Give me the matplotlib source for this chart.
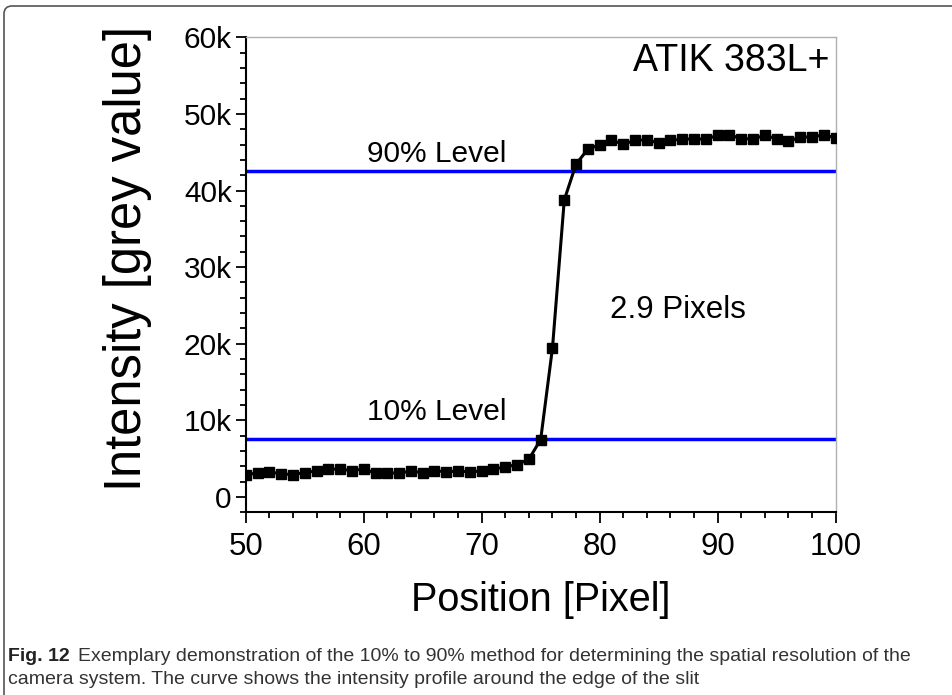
import matplotlib
matplotlib.use("Agg")
import matplotlib.pyplot as plt
from matplotlib.patches import FancyBboxPatch
from matplotlib.ticker import MultipleLocator, FuncFormatter

# intensity profile across the slit edge, one sample per pixel
position = list(range(50, 101))
intensity = [
    2880, 3140, 3270, 3010, 2920, 3185, 3400, 3620, 3620, 3450,
    3660, 3100, 3100, 3140, 3360, 3185, 3450, 3270, 3400, 3270,
    3400, 3620, 3925, 4230, 4930, 7500, 19480, 38780, 43450, 45410,
    45970, 46540, 46060, 46540, 46630, 46190, 46540, 46720, 46720, 46720,
    47190, 47280, 46760, 46760, 47190, 46760, 46410, 46980, 46980, 47280,
    46850,
]
level_10 = 7630
level_90 = 42540
camera = "ATIK 383L+"
rise_label = "2.9 Pixels"

plt.rcParams['font.family'] = ['Liberation Sans', 'DejaVu Sans']

fig = plt.figure(figsize=(9.52, 6.95), dpi=100)
ax = fig.add_axes([0.2581, 0.2629, 0.6197, 0.6834])

ax.axhline(level_10, color='#0000ff', lw=2.5, zorder=2)
ax.axhline(level_90, color='#0000ff', lw=2.5, zorder=2)
ax.plot(position, intensity, color='black', lw=2.2, marker='s',
        markersize=7.5, zorder=3)

ax.set_xlim(50, 100)
ax.set_ylim(-2000, 60000)
ax.xaxis.set_major_locator(MultipleLocator(10))
ax.xaxis.set_minor_locator(MultipleLocator(2))
ax.yaxis.set_major_locator(MultipleLocator(10000))
ax.yaxis.set_minor_locator(MultipleLocator(2000))
ax.yaxis.set_major_formatter(FuncFormatter(
    lambda v, p: '0' if v == 0 else f'{int(v / 1000)}k'))

ax.tick_params(axis='both', which='both', direction='out', width=1.3)
ax.tick_params(axis='x', which='major', length=8, labelsize=22.5, pad=6)
ax.tick_params(axis='x', which='minor', length=4.5)
ax.tick_params(axis='y', which='major', length=7, labelsize=21.5, pad=3)
ax.tick_params(axis='y', which='minor', length=4.5)
for s in ('left', 'bottom'):
    ax.spines[s].set_linewidth(1.5)
for s in ('top', 'right'):
    ax.spines[s].set_color('#b0b0b0')
    ax.spines[s].set_linewidth(1.0)

ax.text(99.5, 55600, camera, ha='right', va='baseline', fontsize=27)
ax.text(60.25, 43750, '90% Level', ha='left', va='baseline', fontsize=21.5)
ax.text(60.25, 10030, '10% Level', ha='left', va='baseline', fontsize=21.5)
ax.text(80.9, 23300, rise_label, ha='left', va='baseline', fontsize=22.5)

fig.text(540.7 / 952, 1 - 611 / 695, 'Position [Pixel]', ha='center',
         va='baseline', fontsize=28.5)
fig.text(128 / 952, 1 - 258 / 695, 'Intensity [grey value]', ha='center',
         va='center', rotation=90, fontsize=36.5)

# caption below the plot
cap_size = 14
fig.canvas.draw()
bold = fig.text(8 / 952, 1 - 661 / 695, 'Fig. 12', fontsize=cap_size,
                fontweight='bold', va='baseline', color='#222222')
fig.canvas.draw()
bb = bold.get_window_extent()
fig.text((bb.x1 + 8) / 952, 1 - 661 / 695,
         'Exemplary demonstration of the 10% to 90% method for determining '
         'the spatial resolution of the', fontsize=cap_size,
         color='#333333', va='baseline')
fig.text(8 / 952, 1 - 684 / 695,
         'camera system. The curve shows the intensity profile around the '
         'edge of the slit', fontsize=cap_size,
         color='#333333', va='baseline')

# panel frame
frame = FancyBboxPatch((4, -40), 1000, 729,
                       boxstyle='round,pad=0,rounding_size=8',
                       transform=None, fill=False, edgecolor='#555555',
                       lw=1.2)
fig.patches.append(frame)

fig.savefig('out.png', dpi=100)
